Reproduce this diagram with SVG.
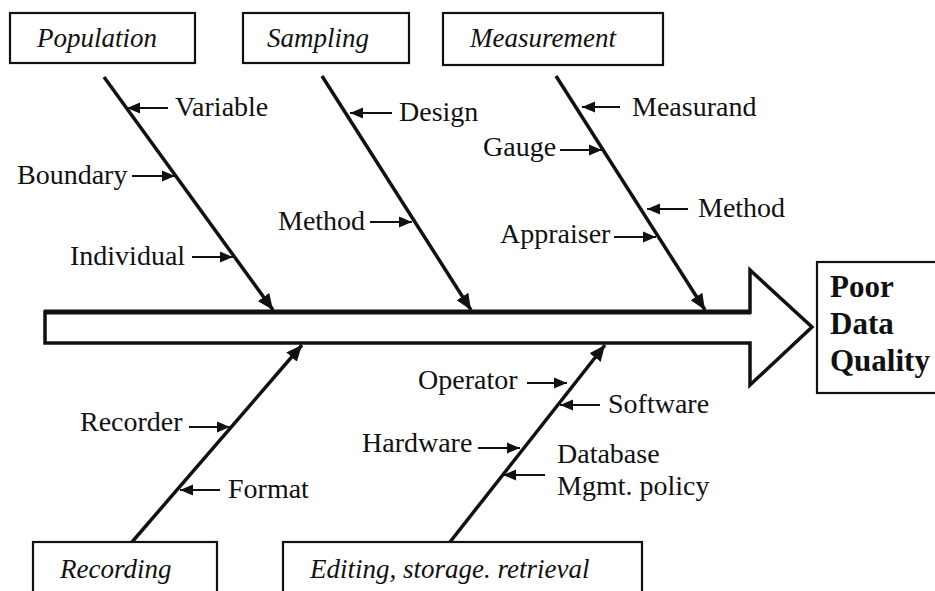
<svg xmlns="http://www.w3.org/2000/svg" width="935" height="591" viewBox="0 0 935 591">
<style>
.box{fill:#fff;stroke:#111;stroke-width:2.2}
.title{font-family:'Liberation Serif',serif;font-style:italic;font-size:27px;fill:#111}
.lbl{font-family:'Liberation Serif',serif;font-size:28px;fill:#111}
.res{font-family:'Liberation Serif',serif;font-weight:bold;font-size:31px;fill:#111}
.bone{stroke:#111;stroke-width:3.5;fill:none;marker-end:url(#big)}
.br{stroke:#111;stroke-width:2;fill:none;marker-end:url(#small)}
</style>
<defs>
<marker id="big" markerUnits="userSpaceOnUse" markerWidth="18" markerHeight="14" refX="16" refY="7" orient="auto">
<path d="M0,0 L16,7 L0,14 Z" fill="#111"/>
</marker>
<marker id="small" markerUnits="userSpaceOnUse" markerWidth="14" markerHeight="12" refX="13" refY="6" orient="auto">
<path d="M0,0.5 L13,6 L0,11.5 Z" fill="#111"/>
</marker>
</defs>
<rect width="935" height="591" fill="#fff"/>

<g id="spine">
<polygon points="45,312 750,312 750,270 812,327 750,385 750,343 45,343" fill="#fff" stroke="#111" stroke-width="3.5" stroke-linejoin="miter"/>
<line x1="44" y1="312" x2="751" y2="312" stroke="#111" stroke-width="5"/>
</g>

<g id="result">
<rect class="box" x="817" y="262" width="130" height="131" stroke-width="3"/>
<text class="res" x="830" y="297">Poor</text>
<text class="res" x="830" y="334">Data</text>
<text class="res" x="830" y="371">Quality</text>
</g>

<g id="population">
<rect class="box" x="10" y="13" width="185" height="50"/>
<text class="title" x="37" y="47">Population</text>
</g>
<g id="sampling">
<rect class="box" x="243" y="13" width="166" height="50"/>
<text class="title" x="267" y="47">Sampling</text>
</g>
<g id="measurement">
<rect class="box" x="443" y="13" width="220" height="52"/>
<text class="title" x="470" y="47">Measurement</text>
</g>
<g id="recording">
<rect class="box" x="33" y="542" width="184" height="60"/>
<text class="title" x="60" y="578">Recording</text>
</g>
<g id="editing">
<rect class="box" x="283" y="542" width="359" height="60"/>
<text class="title" x="310" y="578">Editing, storage. retrieval</text>
</g>

<g id="labels">
<text class="lbl" x="175" y="116">Variable</text>
<text class="lbl" x="17" y="184">Boundary</text>
<text class="lbl" x="70" y="265">Individual</text>
<text class="lbl" x="399" y="121">Design</text>
<text class="lbl" x="278" y="230">Method</text>
<text class="lbl" x="632" y="116">Measurand</text>
<text class="lbl" x="483" y="156">Gauge</text>
<text class="lbl" x="698" y="217">Method</text>
<text class="lbl" x="500" y="243">Appraiser</text>
<text class="lbl" x="418" y="389">Operator</text>
<text class="lbl" x="608" y="413">Software</text>
<text class="lbl" x="362" y="452">Hardware</text>
<text class="lbl" x="557" y="463">Database</text>
<text class="lbl" x="557" y="495">Mgmt. policy</text>
<text class="lbl" x="80" y="431">Recorder</text>
<text class="lbl" x="228" y="498">Format</text>
</g>

<g id="connectors">
<line class="bone" x1="104" y1="77" x2="273" y2="310"/>
<line class="bone" x1="322" y1="76" x2="471" y2="310"/>
<line class="bone" x1="556" y1="76" x2="705" y2="310"/>
<line class="bone" x1="132" y1="542" x2="302" y2="345"/>
<line class="bone" x1="450" y1="542" x2="605" y2="345"/>

<line class="br" x1="168" y1="108" x2="127" y2="108"/>
<line class="br" x1="132" y1="176" x2="175" y2="176"/>
<line class="br" x1="192" y1="257" x2="233" y2="257"/>
<line class="br" x1="392" y1="113" x2="350" y2="113"/>
<line class="br" x1="370" y1="222" x2="412" y2="222"/>
<line class="br" x1="620" y1="107" x2="582" y2="107"/>
<line class="br" x1="560" y1="150" x2="602" y2="150"/>
<line class="br" x1="688" y1="209" x2="647" y2="209"/>
<line class="br" x1="614" y1="237" x2="656" y2="237"/>
<line class="br" x1="527" y1="383" x2="567" y2="383"/>
<line class="br" x1="600" y1="405" x2="560" y2="405"/>
<line class="br" x1="478" y1="448" x2="520" y2="448"/>
<line class="br" x1="545" y1="475" x2="503" y2="475"/>
<line class="br" x1="189" y1="427" x2="230" y2="427"/>
<line class="br" x1="220" y1="490" x2="180" y2="490"/>
</g>
</svg>
